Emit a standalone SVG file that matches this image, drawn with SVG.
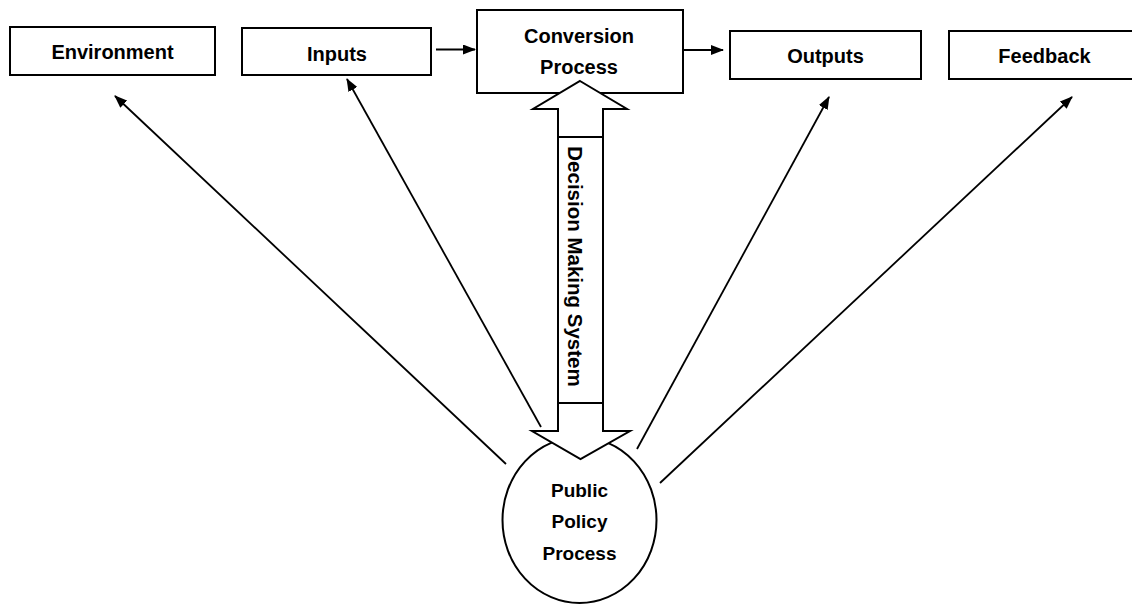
<svg xmlns="http://www.w3.org/2000/svg" width="1132" height="604" viewBox="0 0 1132 604">
  <style>
    .box { fill: #fff; stroke: #000; stroke-width: 2; }
    .lbl { font-family: "Liberation Sans", Arial, sans-serif; font-weight: bold; font-size: 20px; fill: #000; text-anchor: middle; }
    .conn { stroke: #000; stroke-width: 1.8; fill: none; marker-end: url(#ah); }
  </style>
  <defs>
    <marker id="ah" viewBox="0 0 13 10" refX="12" refY="5" markerWidth="13" markerHeight="10" markerUnits="userSpaceOnUse" orient="auto">
      <path d="M0,0 L13,5 L0,10 z" fill="#000"/>
    </marker>
  </defs>
  <rect width="1132" height="604" fill="#fff"/>

  <g id="environment">
    <rect class="box" x="10" y="27" width="205" height="48"/>
    <text class="lbl" x="112.5" y="59">Environment</text>
  </g>
  <g id="inputs">
    <rect class="box" x="242" y="28" width="189" height="47"/>
    <text class="lbl" x="337" y="61">Inputs</text>
  </g>
  <g id="conversion">
    <rect class="box" x="477" y="10" width="206" height="83"/>
    <text class="lbl" x="579" y="43">Conversion</text>
    <text class="lbl" x="579" y="74">Process</text>
  </g>
  <g id="outputs">
    <rect class="box" x="730" y="31" width="191" height="48"/>
    <text class="lbl" x="825.5" y="63">Outputs</text>
  </g>
  <g id="feedback">
    <rect class="box" x="949" y="31" width="192" height="48"/>
    <text class="lbl" x="1044.5" y="63">Feedback</text>
  </g>

  <g id="public-policy">
    <ellipse class="box" cx="579.5" cy="520" rx="77" ry="83"/>
    <text class="lbl" x="579.5" y="497" style="font-size:19px">Public</text>
    <text class="lbl" x="579.5" y="528" style="font-size:19px">Policy</text>
    <text class="lbl" x="579.5" y="560" style="font-size:19px">Process</text>
  </g>

  <g id="connectors">
    <line class="conn" x1="436" y1="49.5" x2="475" y2="49.5" style="stroke-width:2"/>
    <line class="conn" x1="683" y1="50" x2="723" y2="50" style="stroke-width:2"/>
    <line class="conn" x1="506" y1="464" x2="115" y2="96"/>
    <line class="conn" x1="541" y1="427" x2="347" y2="79"/>
    <line class="conn" x1="637" y1="449" x2="829" y2="97"/>
    <line class="conn" x1="660" y1="483" x2="1072" y2="97"/>
  </g>

  <g id="decision-making-system">
    <path class="box" d="M580,81 L627,109 L603,109 L603,431 L630,431 L580.5,459 L532,431 L558,431 L558,109 L533,109 Z" stroke-linejoin="miter"/>
    <line x1="558" y1="137" x2="603" y2="137" stroke="#000" stroke-width="2"/>
    <line x1="558" y1="403" x2="603" y2="403" stroke="#000" stroke-width="2"/>
    <text class="lbl" transform="translate(568,266.5) rotate(90)" x="0" y="0" style="font-size:20.5px">Decision Making System</text>
  </g>
</svg>
